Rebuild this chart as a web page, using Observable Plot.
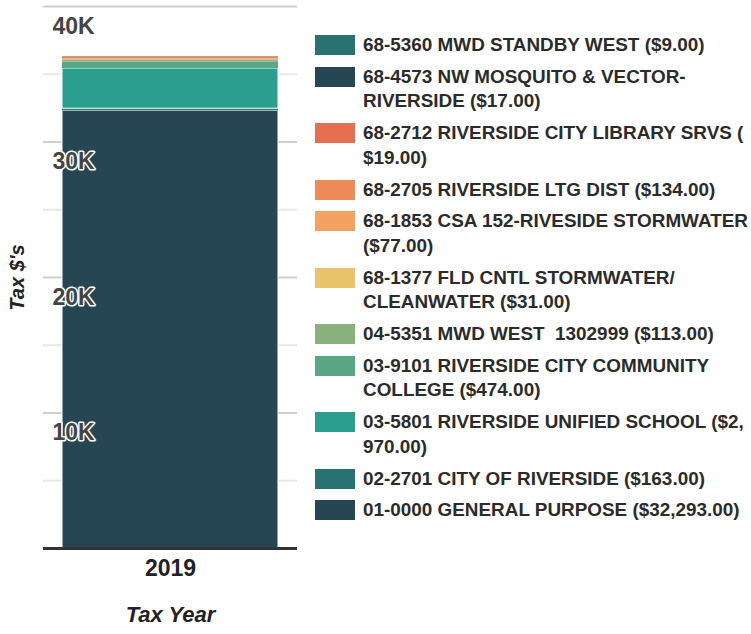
<!DOCTYPE html>
<html><head><meta charset="utf-8">
<script src="https://cdn.jsdelivr.net/npm/d3@7"></script>
<script src="https://cdn.jsdelivr.net/npm/@observablehq/plot@0.6"></script>
<style>
body{margin:0;background:#fff;font-family:"Liberation Sans",Arial,sans-serif;}
#wrap{position:relative;width:751px;height:634px;overflow:hidden;}
#chart{position:absolute;left:0;top:0;}
#legend{position:absolute;left:315px;top:33px;}
.item{display:flex;align-items:flex-start;margin-bottom:7.2px;}
.sw{width:40px;height:20px;margin-top:2px;margin-right:8px;flex:none;}
.lab{font-weight:bold;font-size:18.9px;line-height:24.6px;color:#2b2b2b;white-space:pre;}
</style></head>
<body>
<div id="wrap"><div id="chart"></div><div id="legend"></div></div>
<script>
// stack order: bottom to top
const years = ["2019"];
const funds = [
  "01-0000 GENERAL PURPOSE ($32,293.00)",
  "02-2701 CITY OF RIVERSIDE ($163.00)",
  "03-5801 RIVERSIDE UNIFIED SCHOOL ($2,\n970.00)",
  "03-9101 RIVERSIDE CITY COMMUNITY\nCOLLEGE ($474.00)",
  "04-5351 MWD WEST  1302999 ($113.00)",
  "68-1377 FLD CNTL STORMWATER/\nCLEANWATER ($31.00)",
  "68-1853 CSA 152-RIVESIDE STORMWATER\n($77.00)",
  "68-2705 RIVERSIDE LTG DIST ($134.00)",
  "68-2712 RIVERSIDE CITY LIBRARY SRVS (\n$19.00)",
  "68-4573 NW MOSQUITO & VECTOR-\nRIVERSIDE ($17.00)",
  "68-5360 MWD STANDBY WEST ($9.00)"
];
const amounts = [32293, 163, 2970, 474, 113, 31, 77, 134, 19, 17, 9];
const colors = ["#264653", "#287271", "#2a9d8f", "#5aa786", "#8ab17d", "#e9c46a", "#f4a261", "#ee8959", "#e76f51", "#264653", "#287271"];
const minorTicks = [5000, 15000, 25000, 35000];
const majorTicks = [10000, 20000, 30000, 40000];
const tickLabels = ["10K", "20K", "30K", "40K"];

const data = funds.map((f, i) => ({year: years[0], fund: f, amount: amounts[i]}));
const labelData = majorTicks.map((v, i) => ({v, t: tickLabels[i]}));

const chart = Plot.plot({
  width: 305,
  height: 634,
  marginLeft: 43,
  marginRight: 8,
  marginTop: 6,
  marginBottom: 86,
  x: {domain: years, padding: 0.08, axis: null},
  y: {domain: [0, 40000], axis: null},
  color: {domain: funds, range: colors},
  style: {fontFamily: "'Liberation Sans', Arial, sans-serif", background: "white"},
  marks: [
    Plot.ruleY(minorTicks, {stroke: "#e8e8e8", strokeWidth: 2}),
    Plot.ruleY(majorTicks, {stroke: "#cfcfcf", strokeWidth: 2}),
    Plot.barY(data, {x: "year", y: "amount", fill: "fund", stroke: "white", strokeWidth: 1,
      strokeOpacity: d => d.amount > 1000 ? 1 : 0}),
    Plot.ruleY([0], {stroke: "#333", strokeWidth: 3}),
    Plot.text(labelData, {y: "v", text: "t", frameAnchor: "left", textAnchor: "start", dx: 9, dy: 20,
      fontSize: 23, fontWeight: "bold", fill: "#444", stroke: "white", strokeWidth: 3, paintOrder: "stroke"}),
    Plot.text(years, {x: d => d, frameAnchor: "bottom", dy: 27, fontSize: 23, fontWeight: "bold", fill: "#222"}),
    Plot.text(["Tax Year"], {frameAnchor: "bottom", textAnchor: "middle", dy: 73, fontSize: 22, fontWeight: "bold", fontStyle: "italic", fill: "#222"}),
    Plot.text(["Tax $'s"], {frameAnchor: "left", textAnchor: "middle", rotate: -90, dx: -26, fontSize: 20, fontWeight: "bold", fontStyle: "italic", fill: "#222"})
  ]
});
document.getElementById("chart").appendChild(chart);

const legend = document.getElementById("legend");
for (let i = funds.length - 1; i >= 0; i--) {
  const item = document.createElement("div");
  item.className = "item";
  const sw = document.createElement("div");
  sw.className = "sw";
  sw.style.background = colors[i];
  const lab = document.createElement("div");
  lab.className = "lab";
  lab.textContent = funds[i];
  item.appendChild(sw);
  item.appendChild(lab);
  legend.appendChild(item);
}
</script>
</body></html>
